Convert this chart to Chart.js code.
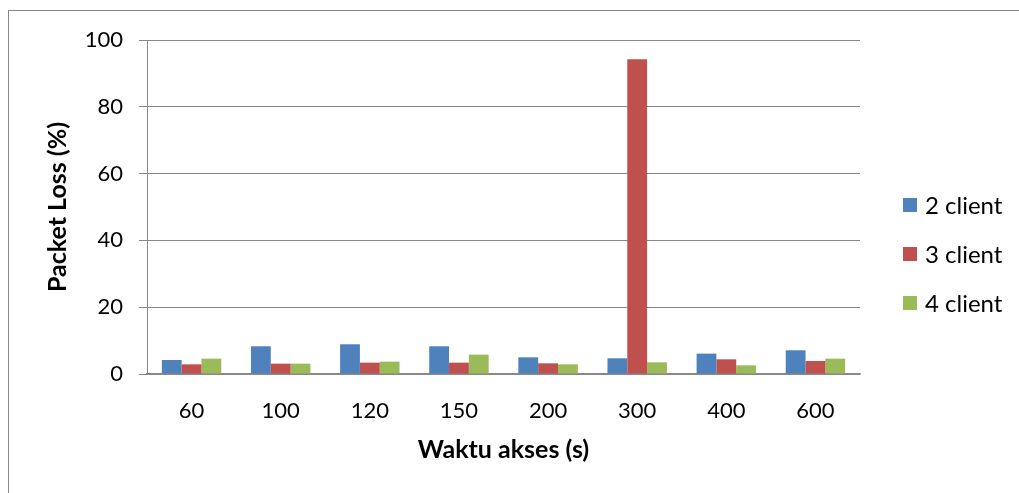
<!DOCTYPE html>
<html lang="id">
<head>
    <meta charset="UTF-8">
    <title>Packet Loss</title>
    <script src="https://cdn.jsdelivr.net/npm/chart.js"></script>
    <style>
        html, body { margin: 0; padding: 0; background: #fff; overflow: hidden; }
    </style>
</head>
<body>
    <canvas id="lossChart" width="1019" height="493"></canvas>

    <script>
        // data
        const waktu = ['60', '100', '120', '150', '200', '300', '400', '600'];
        const client2 = [4.2, 8.3, 8.9, 8.3, 5.0, 4.7, 6.1, 7.1];
        const client3 = [2.9, 3.1, 3.4, 3.4, 3.2, 94.2, 4.4, 3.9];
        const client4 = [4.6, 3.1, 3.7, 5.8, 2.9, 3.5, 2.6, 4.6];
        const seriesNames = ['2 client', '3 client', '4 client'];
        const colors = ['#4F81BD', '#C0504D', '#9BBB59'];

        const FONT = 'Lato, "Open Sans", sans-serif';

        // outer frame + legend drawn next to the plot
        const framePlugin = {
            id: 'frame',
            afterDraw(chart) {
                const ctx = chart.ctx;
                ctx.save();
                ctx.strokeStyle = '#888';
                ctx.lineWidth = 1;
                ctx.strokeRect(8.5, 10.5, 1030, 500);

                const x0 = chart.chartArea.right + 43;
                const rows = [205, 254, 303];
                ctx.font = '24px ' + FONT;
                ctx.textBaseline = 'middle';
                chart.data.datasets.forEach((ds, i) => {
                    ctx.fillStyle = ds.backgroundColor;
                    ctx.fillRect(x0, rows[i] - 7, 14, 14);
                    ctx.fillStyle = '#000';
                    ctx.fillText(ds.label, x0 + 22, rows[i] + 1);
                });
                ctx.restore();
            }
        };

        new Chart(document.getElementById('lossChart'), {
            type: 'bar',
            data: {
                labels: waktu,
                datasets: [client2, client3, client4].map((d, i) => ({
                    label: seriesNames[i],
                    data: d,
                    backgroundColor: colors[i],
                    categoryPercentage: 0.667,
                    barPercentage: 1
                }))
            },
            options: {
                responsive: false,
                animation: false,
                layout: { padding: { left: 42, right: 159, top: 40, bottom: 28 } },
                plugins: {
                    legend: { display: false },
                    tooltip: { enabled: false }
                },
                scales: {
                    x: {
                        grid: { display: false, drawTicks: false },
                        border: { display: true, color: '#888', width: 1.5 },
                        ticks: { color: '#000', font: { family: FONT, size: 22 }, padding: 24 },
                        title: {
                            display: true,
                            text: 'Waktu akses (s)',
                            color: '#000',
                            font: { family: FONT, size: 25, weight: 'bold' },
                            padding: { top: 10, bottom: 0 }
                        },
                        afterFit(scale) { scale.height = 493 - 28 - 374; }
                    },
                    y: {
                        min: 0,
                        max: 100,
                        ticks: { stepSize: 20, color: '#000', font: { family: FONT, size: 22 }, padding: 16 },
                        grid: { color: '#888', tickLength: 8, lineWidth: 1 },
                        border: { display: true, color: '#888' },
                        title: {
                            display: true,
                            text: 'Packet Loss (%)',
                            color: '#000',
                            font: { family: FONT, size: 25, weight: 'bold' },
                            padding: { top: 1, bottom: 0 }
                        },
                        afterFit(scale) { scale.width = 147 - 42; }
                    }
                }
            },
            plugins: [framePlugin]
        });
    </script>
</body>
</html>
